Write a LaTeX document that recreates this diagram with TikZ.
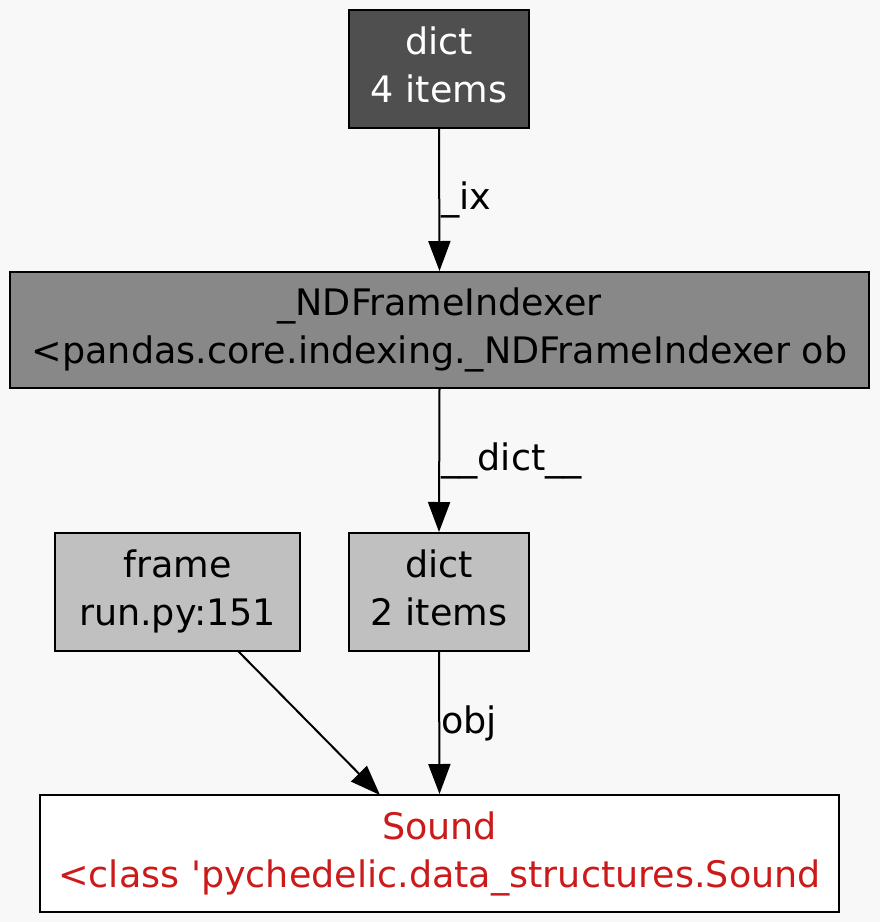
\documentclass[tikz,border=0pt]{standalone}
\usepackage{fontspec}
\setmainfont{DejaVu Sans}
\usetikzlibrary{arrows.meta}
\definecolor{bg}{HTML}{F8F8F8}
\definecolor{dark}{HTML}{4F4F4F}
\definecolor{mid}{HTML}{888888}
\definecolor{light}{HTML}{C0C0C0}
\definecolor{redtxt}{HTML}{CC1A1A}
\begin{document}
\begin{tikzpicture}[x=1pt,y=-1pt,
  box/.style={draw=black,line width=2pt,rectangle,inner sep=0pt,align=center,
    font=\fontsize{36.5}{48}\selectfont},
  conn/.style={line width=2pt,-{Triangle[length=30pt,width=22pt]}},
  elabel/.style={font=\fontsize{36.5}{40}\selectfont,anchor=west,inner sep=1pt}]
\fill[bg] (0,0) rectangle (880,922);
\useasboundingbox (0,0) rectangle (880,922);
\node[box,fill=dark,text=white,minimum width=180pt,minimum height=118pt] (d4) at (439,69) {\strut dict\\\strut 4 items};
\node[box,fill=mid,minimum width=859pt,minimum height=116pt] (nd) at (439.5,330) {\strut\_NDFrameIndexer\\\strut<pandas.core.indexing.\_NDFrameIndexer ob};
\node[box,fill=light,minimum width=245pt,minimum height=118pt] (fr) at (177.5,592) {\strut frame\\\strut run.py:151};
\node[box,fill=light,minimum width=180pt,minimum height=118pt] (d2) at (439,592) {\strut dict\\\strut 2 items};
\node[box,fill=white,text=redtxt,minimum width=799pt,minimum height=117pt] (snd) at (439.5,853.5) {\strut Sound\\\strut<class \textquotesingle pychedelic.data\_structures.Sound};
\draw[conn] (d4.south) -- node[elabel,pos=0.5] {\_ix} (nd.north);
\draw[conn] (nd.south) -- node[elabel,pos=0.5] {\_\_dict\_\_} (d2.north);
\draw[conn] (d2.south) -- node[elabel,pos=0.5] {obj} (snd.north);
\coordinate (fs) at (238,651);
\coordinate (st) at (380,795);
\draw[conn] (fs) -- (st);
\end{tikzpicture}
\end{document}
